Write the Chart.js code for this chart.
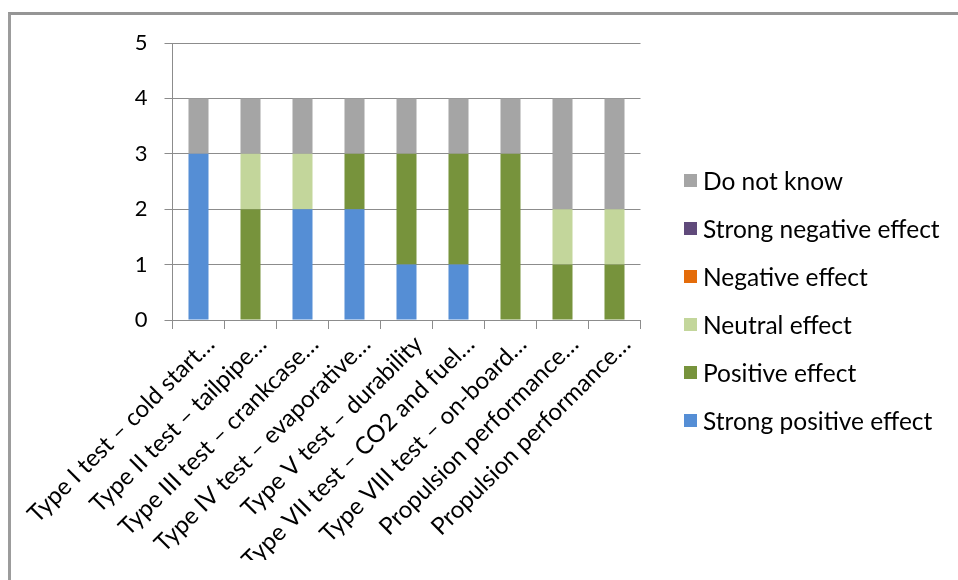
<!DOCTYPE html>
<html>
<head>
<meta charset="utf-8">
<script src="https://cdn.jsdelivr.net/npm/chart.js@4/dist/chart.umd.min.js"></script>
<style>
  html, body { margin: 0; padding: 0; background: #fff; }
  #wrap { position: relative; width: 958px; height: 580px; overflow: hidden; }
  #frame { position: absolute; left: 8px; top: 12px; right: 0; bottom: 0;
           border-top: 3px solid #959595; border-left: 3px solid #9c9c9c; }
  canvas { position: absolute; left: 0; top: 0; }
  #legend { position: absolute; left: 684px; top: 0; font-family: Lato, sans-serif; font-size: 24.5px; color: #000; }
  .item { position: absolute; left: 0; height: 30px; white-space: nowrap; display: flex; align-items: center; }
  .box { width: 13px; height: 13px; margin-right: 6px; flex: none; }
</style>
</head>
<body>
<div id="wrap">
  <div id="frame"></div>
  <canvas id="c" width="958" height="580"></canvas>
  <div id="legend"></div>
</div>
<script>
const categories = [
  "Type I test – cold start…",
  "Type II test – tailpipe…",
  "Type III test – crankcase…",
  "Type IV test – evaporative…",
  "Type V test – durability",
  "Type VII test – CO2 and fuel…",
  "Type VIII test – on-board…",
  "Propulsion performance…",
  "Propulsion performance…"
];
const seriesNames = ["Strong positive effect", "Positive effect", "Neutral effect", "Negative effect", "Strong negative effect", "Do not know"];
const strongPositive = [3, 0, 2, 2, 1, 1, 0, 0, 0];
const positive       = [0, 2, 0, 1, 2, 2, 3, 1, 1];
const neutral        = [0, 1, 1, 0, 0, 0, 0, 1, 1];
const negative       = [0, 0, 0, 0, 0, 0, 0, 0, 0];
const strongNegative = [0, 0, 0, 0, 0, 0, 0, 0, 0];
const doNotKnow      = [1, 1, 1, 1, 1, 1, 1, 2, 2];
const yTicks = [0, 1, 2, 3, 4, 5];

const FONT = "Lato";
const colors = ['#558ED5', '#77933C', '#C3D69B', '#E46C0A', '#604A7B', '#A5A5A5'];
const values = [strongPositive, positive, neutral, negative, strongNegative, doNotKnow];

const chart = new Chart(document.getElementById('c'), {
  type: 'bar',
  data: {
    labels: categories,
    datasets: seriesNames.map((n, i) => ({
      label: n, data: values[i], backgroundColor: colors[i], borderWidth: 0,
      barPercentage: 0.385, categoryPercentage: 1.0
    }))
  },
  options: {
    responsive: false,
    animation: false,
    layout: { padding: { left: 0, top: 43, right: 317.5, bottom: 20 } },
    plugins: { tooltip: { enabled: false }, legend: { display: false } },
    scales: {
      x: {
        stacked: true,
        grid: { display: true, drawOnChartArea: false, drawTicks: true, tickLength: 9, color: '#8c8c8c', offset: true },
        border: { display: true, color: '#8c8c8c', width: 1 },
        ticks: {
          autoSkip: false, maxRotation: 45, minRotation: 45,
          color: '#000', font: { family: FONT, size: 24 }, padding: 1, labelOffset: 12
        },
        afterFit: s => { s.height = 240; }
      },
      y: {
        stacked: true, min: 0, max: 5,
        afterBuildTicks: s => { s.ticks = yTicks.map(v => ({ value: v })); },
        grid: { color: '#8c8c8c', tickLength: 8, lineWidth: 1 },
        border: { display: true, color: '#8c8c8c', width: 1 },
        ticks: { color: '#000', font: { family: FONT, size: 22 }, padding: 17 },
        afterFit: s => { s.width = 172.5; }
      }
    }
  }
});

// HTML legend built from the chart's datasets (reverse order, like the reference)
const leg = document.getElementById('legend');
chart.data.datasets.slice().reverse().forEach((ds, k) => {
  const it = document.createElement('div');
  it.className = 'item';
  it.style.top = (181.5 + 48 * k - 16) + 'px';
  const b = document.createElement('span');
  b.className = 'box';
  b.style.background = ds.backgroundColor;
  const t = document.createElement('span');
  t.textContent = ds.label;
  it.appendChild(b); it.appendChild(t);
  leg.appendChild(it);
});
</script>
</body>
</html>
